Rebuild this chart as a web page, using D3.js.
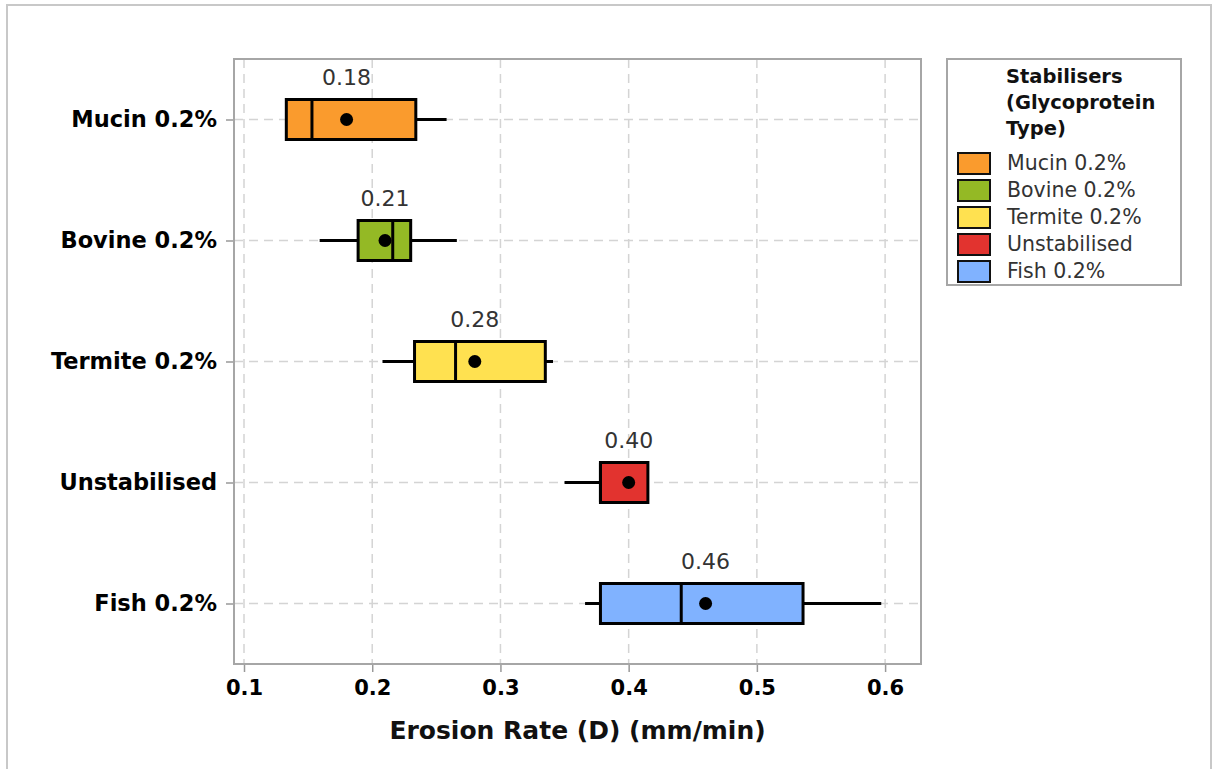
<!DOCTYPE html>
<html>
<head>
<meta charset="utf-8">
<script src="https://cdn.jsdelivr.net/npm/d3@7"></script>
<style>
  html, body { margin: 0; padding: 0; background: #fff; }
  svg { display: block; }
  text { font-family: "Century Gothic", "DejaVu Sans", sans-serif; }
</style>
</head>
<body>
<svg id="chart" width="1213" height="769"></svg>
<script>
// Erosion rate per stabiliser (box: whisker low, Q1, median, Q3, whisker high; mean dot)
const categories = ["Mucin 0.2%", "Bovine 0.2%", "Termite 0.2%", "Unstabilised", "Fish 0.2%"];
const whiskerLow  = [0.133, 0.159, 0.208, 0.350, 0.366];
const q1Values    = [0.133, 0.189, 0.233, 0.378, 0.378];
const medians     = [0.153, 0.216, 0.265, 0.378, 0.441];
const q3Values    = [0.234, 0.230, 0.335, 0.415, 0.536];
const whiskerHigh = [0.258, 0.266, 0.341, 0.415, 0.597];
const means       = [0.18, 0.21, 0.28, 0.40, 0.46];
const meanLabels  = ["0.18", "0.21", "0.28", "0.40", "0.46"];
const colors      = ["#FA9B2D", "#94B925", "#FFE150", "#E2332F", "#80B2FF"];
const xTicks      = [0.1, 0.2, 0.3, 0.4, 0.5, 0.6];
const legendTitle = ["Stabilisers", "(Glycoprotein", "Type)"];
const xTitle      = "Erosion Rate (D) (mm/min)";

const FONT = "'Century Gothic','DejaVu Sans',sans-serif";
const svg = d3.select("#chart");
const plot = { left: 234, top: 59, right: 921, bottom: 664 };

// outer frame
svg.append("rect").attr("x", 7).attr("y", 5).attr("width", 1204).attr("height", 775)
  .attr("fill", "none").attr("stroke", "#c8c8c8").attr("stroke-width", 2);

const x = d3.scaleLinear().domain([0.0922, 0.628]).range([plot.left, plot.right]);
const y = d3.scalePoint().domain(categories).range([plot.top, plot.bottom]).padding(0.5);

const rows = categories.map((c, i) => ({
  name: c, lo: whiskerLow[i], q1: q1Values[i], med: medians[i], q3: q3Values[i],
  hi: whiskerHigh[i], mean: means[i], label: meanLabels[i], color: colors[i]
}));

// grid
const grid = svg.append("g").attr("stroke", "#d4d4d4").attr("stroke-width", 1.5)
  .attr("stroke-dasharray", "9,6");
grid.selectAll("line.v").data(xTicks).join("line").attr("class", "v")
  .attr("x1", d => x(d)).attr("x2", d => x(d)).attr("y1", plot.top).attr("y2", plot.bottom);
grid.selectAll("line.h").data(categories).join("line").attr("class", "h")
  .attr("x1", plot.left).attr("x2", plot.right).attr("y1", d => y(d)).attr("y2", d => y(d));

// axes
const xAxis = d3.axisBottom(x).tickValues(xTicks).tickFormat(d3.format(".1f")).tickSize(8).tickPadding(8);
const gx = svg.append("g").attr("transform", `translate(0,${plot.bottom})`).call(xAxis);
gx.select(".domain").remove();
gx.selectAll(".tick line").attr("stroke", "#999").attr("stroke-width", 1.5);
gx.selectAll(".tick text").attr("fill", "#000").attr("font-size", 21).attr("font-weight", "bold")
  .style("font-family", FONT);

const yAxis = d3.axisLeft(y).tickSize(8).tickPadding(9);
const gy = svg.append("g").attr("transform", `translate(${plot.left},0)`).call(yAxis);
gy.select(".domain").remove();
gy.selectAll(".tick line").attr("stroke", "#999").attr("stroke-width", 1.5);
gy.selectAll(".tick text").attr("fill", "#000").attr("font-size", 22.5).attr("font-weight", "bold")
  .style("font-family", FONT);

// plot frame
svg.append("rect").attr("x", plot.left).attr("y", plot.top)
  .attr("width", plot.right - plot.left).attr("height", plot.bottom - plot.top)
  .attr("fill", "none").attr("stroke", "#a6a6a6").attr("stroke-width", 2);

// boxes
const boxH = 40;
const g = svg.append("g");
const row = g.selectAll("g.row").data(rows).join("g").attr("class", "row")
  .attr("transform", d => `translate(0,${y(d.name)})`);
row.append("line").attr("x1", d => x(d.lo)).attr("x2", d => x(d.q1)).attr("stroke", "#000").attr("stroke-width", 3);
row.append("line").attr("x1", d => x(d.q3)).attr("x2", d => x(d.hi)).attr("stroke", "#000").attr("stroke-width", 3);
row.append("rect").attr("x", d => x(d.q1)).attr("y", -boxH / 2)
  .attr("width", d => x(d.q3) - x(d.q1)).attr("height", boxH)
  .attr("fill", d => d.color).attr("stroke", "#000").attr("stroke-width", 3);
row.append("line").attr("x1", d => x(d.med)).attr("x2", d => x(d.med))
  .attr("y1", -boxH / 2).attr("y2", boxH / 2).attr("stroke", "#000").attr("stroke-width", 3);
row.append("circle").attr("cx", d => x(d.mean)).attr("r", 6.5).attr("fill", "#000");
row.append("text").attr("x", d => x(d.mean)).attr("y", -boxH / 2 - 15)
  .attr("text-anchor", "middle").attr("font-size", 22).attr("fill", "#333")
  .text(d => d.label);

// x title
svg.append("text").attr("x", (plot.left + plot.right) / 2).attr("y", 739)
  .attr("text-anchor", "middle").attr("font-size", 25).attr("font-weight", "bold").attr("fill", "#111")
  .text(xTitle);

// legend
const lg = svg.append("g");
lg.append("rect").attr("x", 947).attr("y", 59).attr("width", 234).attr("height", 226)
  .attr("fill", "#fff").attr("stroke", "#a6a6a6").attr("stroke-width", 2);
lg.selectAll("text.t").data(legendTitle).join("text").attr("class", "t")
  .attr("x", 1006).attr("y", (d, i) => 83 + i * 26)
  .attr("font-size", 19.5).attr("font-weight", "bold").attr("fill", "#111").text(d => d);
const item = lg.selectAll("g.item").data(rows).join("g").attr("class", "item")
  .attr("transform", (d, i) => `translate(0,${163 + i * 27})`);
item.append("rect").attr("x", 958).attr("y", -10).attr("width", 32).attr("height", 21)
  .attr("fill", d => d.color).attr("stroke", "#111").attr("stroke-width", 2);
item.append("text").attr("x", 1007).attr("y", 7).attr("font-size", 20.5).attr("fill", "#333")
  .text(d => d.name);
</script>
</body>
</html>
